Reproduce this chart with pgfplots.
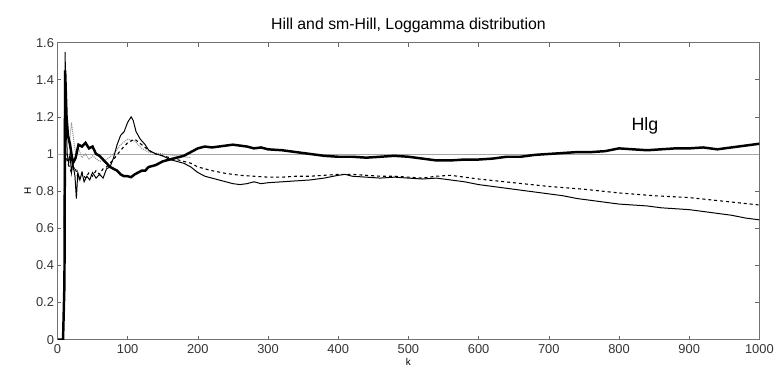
\documentclass[border=0pt]{standalone}
\usepackage{pgfplots}
\pgfplotsset{compat=1.18}
\usepackage{fontspec}
\setmainfont{Liberation Sans}
\begin{document}
\begin{tikzpicture}[x=1pt,y=1pt]
\begin{axis}[
  scale only axis, width=709pt, height=300pt,
  at={(58pt,35pt)}, anchor=south west,
  xmin=0, xmax=1000, ymin=0, ymax=1.6,
  xtick={0,100,...,1000}, ytick={0,0.2,...,1.6},
  yticklabels={0,0.2,0.4,0.6,0.8,1,1.2,1.4,1.6},
  /pgf/number format/set thousands separator={},
  tick align=inside, tick pos=both,
  major tick length=4pt,
  axis line style={draw=black!55, line width=0.9pt},
  tick style={black!60, line width=0.6pt},
  /pgf/number format/assume math mode=true,
  ticklabel style={font=\fontsize{13}{14}\selectfont, text=black!80},
  xticklabel style={yshift=-1pt},
  xlabel={k}, ylabel={H},
  xlabel style={font=\fontsize{10}{11}\selectfont, yshift=2pt},
  ylabel style={font=\fontsize{10}{11}\selectfont, yshift=-2pt},
  title={Hill and sm-Hill, Loggamma distribution},
  title style={font=\fontsize{16}{18}\selectfont, yshift=0pt},
  clip=true,
]
\addplot[black!35, line width=0.9pt] coordinates {(0,1.0) (1000,1.0)};
% dotted gray series (early)
\addplot[black!45, densely dotted, line width=1pt] coordinates {
(9,0.6) (10,1.45) (12,1.3) (14,1.15) (17,1.05) (20,1.17) (23,1.08) (26,1.0) (30,1.03) (35,0.98) (40,1.0) (45,0.97) (50,0.99) (60,0.96) (70,0.97) (80,1.0) (90,1.05) (100,1.08) (110,1.07) (120,1.03) (130,1.01) (150,1.0) (170,0.99) (190,0.98)
};
% thin solid series
\addplot[black, line width=1pt] coordinates {
(10,0.6) (11,1.55) (12,1.2) (14,1.0) (16,0.95) (18,1.0) (20,0.9) (22,0.95) (25,0.88) (27,0.76) (29,0.9) (32,0.86) (35,0.9) (38,0.85) (42,0.88) (46,0.86) (50,0.9) (55,0.87) (60,0.89) (65,0.87) (70,0.92) (75,0.93) (80,0.98) (85,1.05) (90,1.1) (95,1.12) (100,1.17) (105,1.2) (108,1.18) (112,1.12) (118,1.08) (125,1.05) (130,1.02) (140,1.0) (150,0.99) (160,0.97) (170,0.96) (180,0.95) (190,0.93) (200,0.90) (210,0.88) (220,0.87) (230,0.86) (240,0.85) (250,0.84) (260,0.835) (270,0.84) (280,0.85) (290,0.84) (300,0.845) (320,0.85) (340,0.855) (360,0.86) (380,0.87) (400,0.885) (410,0.89) (420,0.88) (440,0.875) (460,0.87) (480,0.875) (500,0.87) (520,0.865) (540,0.87) (560,0.86) (580,0.85) (600,0.835) (620,0.825) (640,0.815) (660,0.805) (680,0.795) (700,0.785) (720,0.775) (740,0.76) (760,0.75) (780,0.74) (800,0.73) (820,0.725) (840,0.72) (860,0.71) (880,0.705) (900,0.70) (920,0.69) (940,0.68) (960,0.67) (980,0.655) (1000,0.645)
};
% dashed series
\addplot[black, dashed, line width=1.1pt] coordinates {
(10,0.8) (12,1.0) (15,0.95) (20,0.9) (25,0.93) (30,0.86) (35,0.9) (40,0.87) (45,0.9) (50,0.88) (55,0.91) (60,0.89) (65,0.92) (70,0.93) (80,0.97) (90,1.02) (100,1.06) (110,1.08) (120,1.05) (130,1.02) (140,1.0) (150,0.99) (160,0.98) (170,0.97) (180,0.96) (190,0.95) (200,0.93) (220,0.91) (240,0.895) (260,0.885) (280,0.88) (300,0.875) (320,0.875) (340,0.88) (360,0.88) (380,0.885) (400,0.89) (420,0.89) (440,0.885) (460,0.88) (480,0.88) (500,0.875) (520,0.87) (540,0.88) (560,0.885) (580,0.875) (600,0.865) (650,0.845) (700,0.825) (750,0.81) (800,0.79) (850,0.775) (900,0.765) (950,0.745) (1000,0.725)
};
% thick Hlg series
\addplot[black, line width=2.5pt] coordinates {
(1,0) (8,0) (10,0.3) (11,1.45) (13,1.2) (15,1.1) (18,1.05) (22,0.95) (26,0.98) (30,1.05) (35,1.04) (40,1.06) (45,1.03) (50,1.04) (55,1.0) (60,0.99) (65,0.97) (70,0.95) (75,0.93) (80,0.92) (85,0.91) (90,0.89) (95,0.88) (100,0.88) (105,0.875) (110,0.89) (115,0.90) (120,0.91) (125,0.91) (130,0.93) (140,0.94) (150,0.96) (160,0.97) (170,0.98) (180,0.99) (190,1.01) (200,1.03) (210,1.04) (220,1.035) (230,1.04) (240,1.045) (250,1.05) (260,1.045) (270,1.04) (280,1.03) (290,1.035) (300,1.025) (320,1.02) (340,1.01) (360,1.0) (380,0.99) (400,0.985) (420,0.985) (440,0.98) (460,0.985) (480,0.99) (500,0.985) (520,0.975) (540,0.965) (560,0.965) (580,0.97) (600,0.97) (620,0.975) (640,0.985) (660,0.985) (680,0.995) (700,1.0) (720,1.005) (740,1.01) (760,1.01) (780,1.015) (800,1.03) (820,1.025) (840,1.02) (860,1.025) (880,1.03) (900,1.03) (920,1.035) (940,1.025) (960,1.035) (980,1.045) (1000,1.055)
};
\node[font=\fontsize{18}{20}\selectfont] at (axis cs:837,1.15) {Hlg};
\end{axis}
\path (0,0) rectangle (777,378);
\end{tikzpicture}
\end{document}
